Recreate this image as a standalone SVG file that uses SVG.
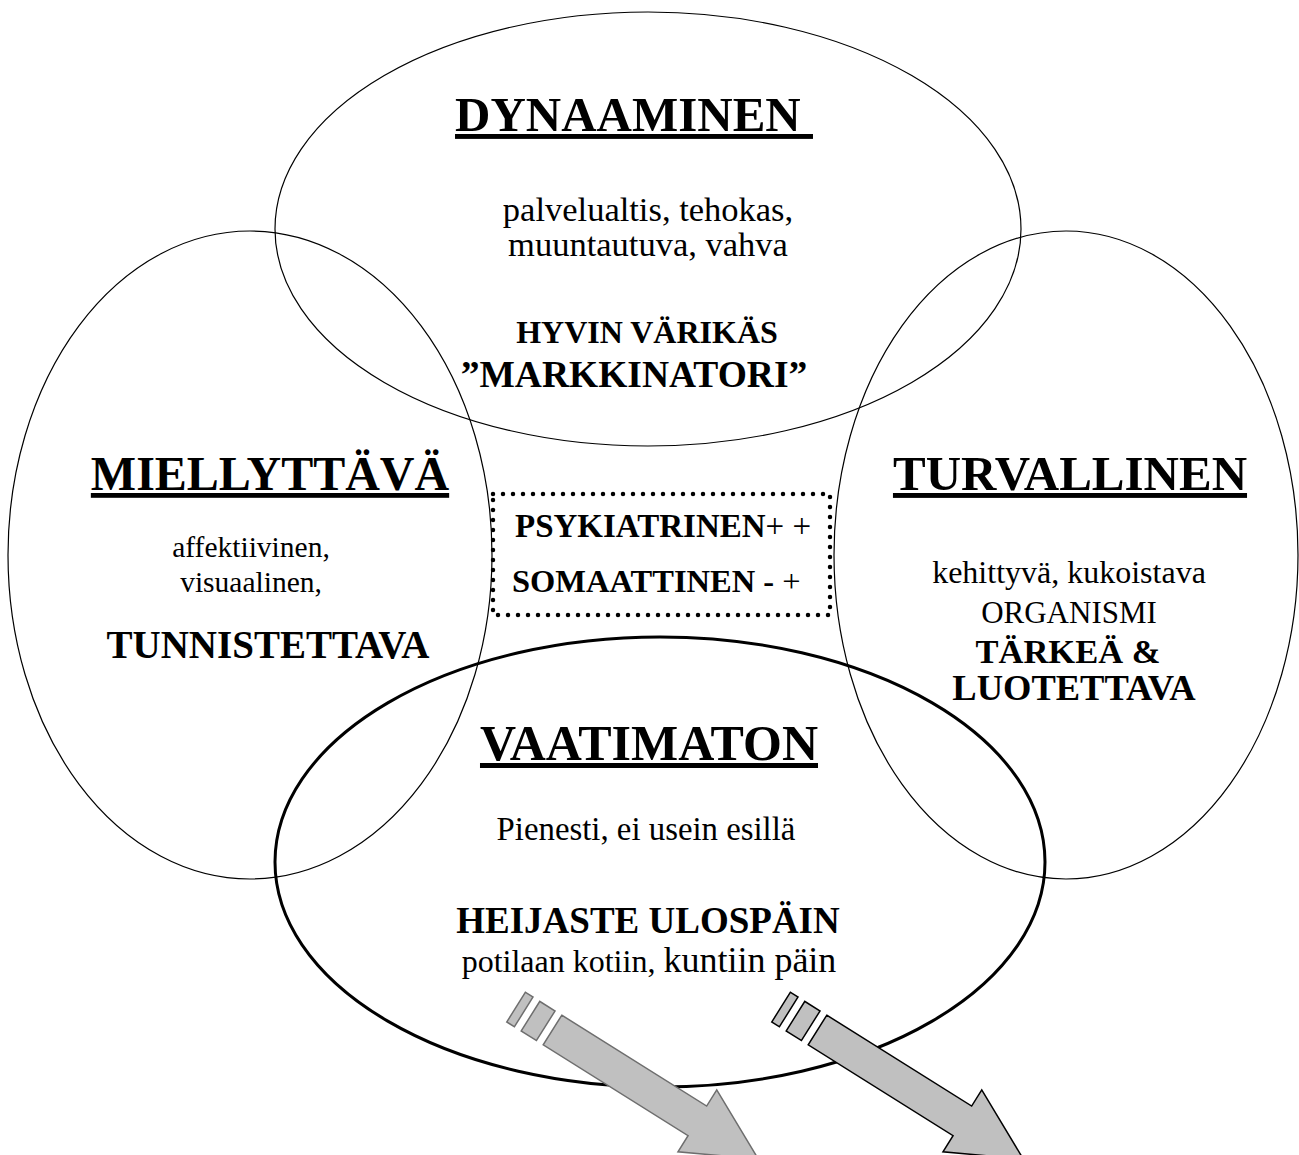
<svg xmlns="http://www.w3.org/2000/svg" width="1299" height="1155" viewBox="0 0 1299 1155">
<style>
text{font-family:"Liberation Serif","Times New Roman",serif;fill:#000;text-anchor:middle}
.h{font-weight:bold;text-decoration:underline}
.bd{font-weight:bold}
.thin{fill:none;stroke:#000;stroke-width:1.2}
.thick{fill:none;stroke:#000;stroke-width:3}
.arrL{fill:#c0c0c0;stroke:#6e6e6e;stroke-width:1.5;stroke-linejoin:miter}
.arrR{fill:#c0c0c0;stroke:#000;stroke-width:1.5;stroke-linejoin:miter}
</style>
<defs>
<g id="arrowShape">
<path d="M0,-17.5 L171,-17.5 L171,-36.5 L243,0 L171,36.5 L171,17.5 L0,17.5 Z"/>
<rect x="-26" y="-17.5" width="18" height="35"/>
<rect x="-43" y="-17.5" width="9" height="35"/>
</g>
</defs>
<rect width="1299" height="1155" fill="#fff"/>
<g id="ellipse-miellyttava"><ellipse class="thin" cx="250" cy="555" rx="242" ry="324"/></g>
<g id="ellipse-turvallinen"><ellipse class="thin" cx="1066" cy="555" rx="232" ry="324"/></g>
<g id="ellipse-dynaaminen"><ellipse class="thin" cx="648" cy="229" rx="373" ry="217"/></g>
<g id="ellipse-vaatimaton"><ellipse class="thick" cx="660" cy="862" rx="385" ry="225"/></g>

<g id="node-dynaaminen">
<text class="h" x="634" y="131" font-size="49">DYNAAMINEN&#160;</text>
<text x="648" y="221" font-size="34.5">palvelualtis, tehokas,</text>
<text x="648" y="256" font-size="34.5">muuntautuva, vahva</text>
<text class="bd" x="647" y="343" font-size="32">HYVIN VÄRIKÄS</text>
<text class="bd" x="634" y="387" font-size="37.5">”MARKKINATORI”</text>
</g>
<g id="node-miellyttava">
<text class="h" x="270" y="490" font-size="48">MIELLYTTÄVÄ</text>
<text x="251" y="557" font-size="29.5">affektiivinen,</text>
<text x="251" y="592" font-size="29.5">visuaalinen,</text>
<text class="bd" x="268" y="658" font-size="39">TUNNISTETTAVA</text>
</g>
<g id="node-turvallinen">
<text class="h" x="1070" y="490" font-size="49">TURVALLINEN</text>
<text x="1069" y="583" font-size="32">kehittyvä, kukoistava</text>
<text x="1069" y="623" font-size="31">ORGANISMI</text>
<text class="bd" x="1068" y="663" font-size="34.5">TÄRKEÄ &amp;</text>
<text class="bd" x="1074" y="700" font-size="36.5">LUOTETTAVA</text>
</g>
<g id="node-vaatimaton">
<text class="h" x="649" y="760" font-size="50">VAATIMATON</text>
<text x="646" y="840" font-size="32.8">Pienesti, ei usein esillä</text>
<text class="bd" x="648" y="933" font-size="37">HEIJASTE ULOSPÄIN</text>
<text x="649" y="972"><tspan font-size="32">potilaan kotiin, </tspan><tspan font-size="36">kuntiin päin</tspan></text>
</g>
<g id="node-box">
<rect x="493" y="494" width="337" height="121" fill="#fff" stroke="#000" stroke-width="4.5" stroke-linecap="round" stroke-dasharray="0 10"/>
<text x="515" y="537" style="text-anchor:start" font-size="33"><tspan font-weight="bold">PSYKIATRINEN</tspan>+ +</text>
<text x="512" y="592" style="text-anchor:start" font-size="32.5"><tspan font-weight="bold">SOMAATTINEN -</tspan> +</text>
</g>
<g id="connectors">
<use href="#arrowShape" class="arrL" transform="translate(552.5,1030) rotate(32.1)"/>
<use href="#arrowShape" class="arrR" transform="translate(817.5,1030) rotate(32.1)"/>
</g>
</svg>
